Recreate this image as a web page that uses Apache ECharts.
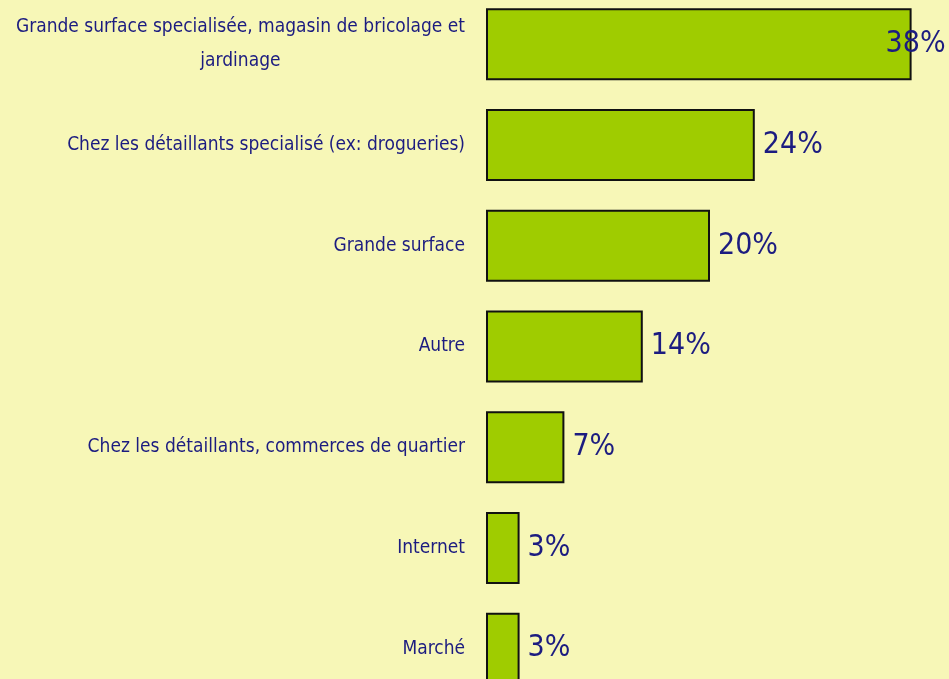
<!DOCTYPE html>
<html>
<head>
<meta charset="utf-8">
<script src="https://cdn.jsdelivr.net/npm/echarts@6/dist/echarts.min.js"></script>
<style>
  html, body { margin: 0; padding: 0; background: #F7F7B7; }
  #chart { width: 949px; height: 679px; }
</style>
</head>
<body>
<div id="chart"></div>
<script>
var categories = [
    'Grande surface specialisée, magasin de bricolage et\njardinage',
    'Chez les détaillants specialisé (ex: drogueries)',
    'Grande surface',
    'Autre',
    'Chez les détaillants, commerces de quartier',
    'Internet',
    'Marché'
];
var values = [38, 24, 20, 14, 7, 3, 3];

var font = "'Liberation Sans Narrow', 'DejaVu Sans Condensed', sans-serif";

var chartDom = document.getElementById('chart');
var myChart = echarts.init(chartDom);

var option = {
    backgroundColor: '#F7F7B7',
    animation: false,
    grid: { left: 486, right: 15, top: -6, bottom: -20, containLabel: false, outerBoundsMode: 'none' },
    xAxis: {
        type: 'value',
        min: 0,
        max: 40,
        show: false
    },
    yAxis: {
        type: 'category',
        inverse: true,
        data: categories,
        axisLine: { show: false },
        axisTick: { show: false },
        axisLabel: {
            margin: 21,
            color: '#1C1C80',
            fontFamily: font,
            fontSize: 19,
            lineHeight: 34,
            formatter: function (v) {
                if (v.indexOf('\n') >= 0) {
                    var parts = v.split('\n');
                    return '{a|' + parts[0] + '}\n{b|' + parts[1] + '}';
                }
                return v;
            },
            rich: {
                a: { color: '#1C1C80', fontFamily: font, fontSize: 19, lineHeight: 34, align: 'right' },
                b: { color: '#1C1C80', fontFamily: font, fontSize: 19, lineHeight: 34, align: 'center' }
            }
        }
    },
    series: [{
        type: 'bar',
        barWidth: 72,
        data: values.map(function (v, i) {
            var d = { value: v };
            if (i === 0) d.label = { offset: [-34, 0] };
            return d;
        }),
        itemStyle: { color: '#9FCC00', borderColor: '#111', borderWidth: 2 },
        label: {
            show: true,
            position: 'right',
            distance: 8,
            color: '#1C1C80',
            fontFamily: font,
            fontSize: 30,
            formatter: '{c}%'
        }
    }]
};

myChart.setOption(option);
</script>
</body>
</html>
